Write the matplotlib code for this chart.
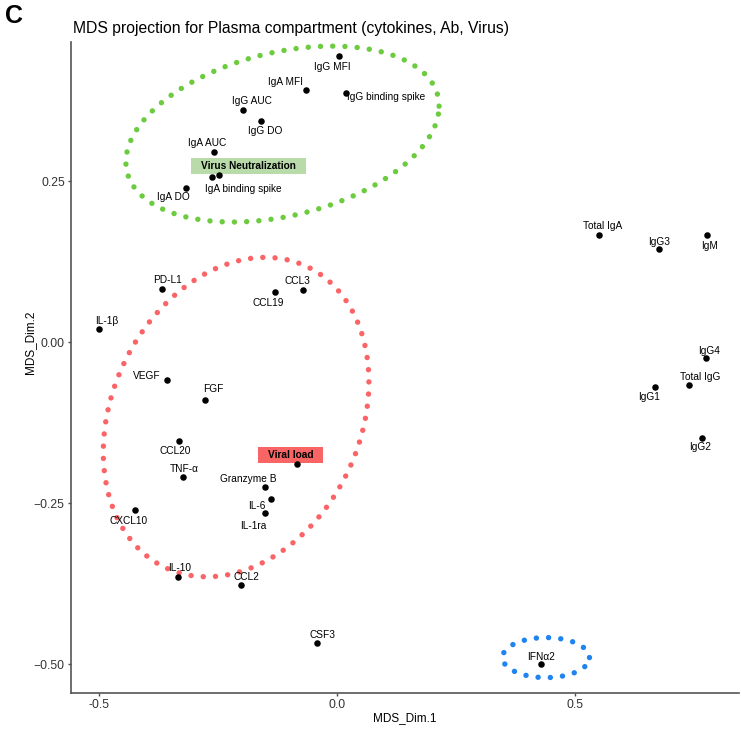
import matplotlib.pyplot as plt
import numpy as np
from matplotlib.patches import Rectangle

plt.rcParams["font.family"] = ["Liberation Sans", "DejaVu Sans"]

# MDS coordinates
names = [
    "IgG MFI", "IgA MFI", "IgG binding spike", "IgG AUC", "IgG DO", "IgA AUC",
    "IgA binding spike", "Virus Neutralization", "IgA DO",
    "PD-L1", "CCL19", "CCL3", "IL-1β", "VEGF", "FGF",
    "CCL20", "TNF-α", "Viral load", "Granzyme B", "IL-6", "IL-1ra", "CXCL10",
    "IL-10", "CCL2",
    "Total IgA", "IgG3", "IgM", "IgG4", "Total IgG", "IgG1", "IgG2",
    "CSF3", "IFNα2",
]
dim1 = [
    0.004, -0.066, 0.019, -0.197, -0.159, -0.258,
    -0.263, -0.247, -0.317,
    -0.368, -0.130, -0.071, -0.500, -0.357, -0.277,
    -0.332, -0.324, -0.083, -0.151, -0.138, -0.151, -0.424,
    -0.333, -0.201,
    0.551, 0.676, 0.778, 0.775, 0.739, 0.668, 0.767,
    -0.043, 0.429,
]
dim2 = [
    0.444, 0.391, 0.387, 0.361, 0.343, 0.295,
    0.256, 0.260, 0.240,
    0.082, 0.077, 0.081, 0.021, -0.059, -0.090,
    -0.153, -0.209, -0.190, -0.225, -0.244, -0.266, -0.261,
    -0.365, -0.377,
    0.166, 0.144, 0.166, -0.024, -0.066, -0.070, -0.149,
    -0.467, -0.500,
]

# cluster ellipses: centre x, centre y, half width, half height, correlation
ell_cx = [-0.1145, -0.212, 0.439]
ell_cy = [0.323, -0.1165, -0.490]
ell_w = [0.329, 0.279, 0.0914]
ell_h = [0.1366, 0.248, 0.0311]
ell_rho = [0.317, 0.22, 0.0]
ell_colors = ["#6CCB3F", "#FB6467", "#1F84F0"]

highlight = {
    "Virus Neutralization": "#B8DBA9",
    "Viral load": "#F96565",
}

# label offsets in pixels (right, up), mimicking the repelled labels
offsets = {
    "IgG MFI": (-7, -11), "IgA MFI": (-20, 8), "IgG binding spike": (40, -4),
    "IgG AUC": (9, 9), "IgG DO": (4, -10), "IgA AUC": (-7, 9),
    "IgA binding spike": (32, -12), "Virus Neutralization": (29, 9),
    "IgA DO": (-13, -9),
    "PD-L1": (6, 9), "CCL19": (-7, -11), "CCL3": (-6, 9), "IL-1β": (8, 8),
    "VEGF": (-20, 4), "FGF": (8, 11),
    "CCL20": (-4, -10), "TNF-α": (1, 8), "Viral load": (-7, 9),
    "Granzyme B": (-17, 8), "IL-6": (-14, -7), "IL-1ra": (-12, -13),
    "CXCL10": (-7, -11), "IL-10": (1, 9), "CCL2": (5, 8),
    "Total IgA": (3, 9), "IgG3": (0, 7), "IgM": (2, -11), "IgG4": (3, 7),
    "Total IgG": (11, 8), "IgG1": (-6, -10), "IgG2": (-2, -9),
    "CSF3": (6, 8), "IFNα2": (0, 7),
}

fig = plt.figure(figsize=(7.41, 7.31), dpi=100)
ax = fig.add_axes([71 / 741, 38 / 731, 668 / 741, 651 / 731])

t = np.linspace(0, 2 * np.pi, 400)
for cx, cy, w, h, rho, col in zip(ell_cx, ell_cy, ell_w, ell_h, ell_rho, ell_colors):
    ex = cx + w * np.cos(t)
    ey = cy + h * (rho * np.cos(t) + np.sqrt(1 - rho ** 2) * np.sin(t))
    ax.plot(ex, ey, color=col, lw=3.9, linestyle=(0, (0.01, 2.25)),
            dash_capstyle="round", zorder=1)

ax.scatter(dim1, dim2, s=22, color="black", zorder=3, linewidths=0)

boxed = []
for name, x, y in zip(names, dim1, dim2):
    dx, dy = offsets[name]
    txt = ax.annotate(name, (x, y), xytext=(dx, dy), textcoords="offset pixels",
                      ha="center", va="center", fontsize=7.3, zorder=4,
                      fontweight="bold" if name in highlight else "normal")
    if name in highlight:
        boxed.append((txt, highlight[name]))

ax.set_xlim(-0.5588, 0.8445)
ax.set_ylim(-0.545, 0.466)
ax.set_xticks([-0.5, 0.0, 0.5])
ax.set_xticklabels(["-0.5", "0.0", "0.5"])
ax.set_yticks([0.25, 0.0, -0.25, -0.5])
ax.set_yticklabels(["0.25", "0.00", "\u22120.25", "\u22120.50"])
ax.tick_params(labelsize=8.8, colors="#4D4D4D", length=2.5, width=1, pad=2,
               labelcolor="#333333")
for side in ["top", "right"]:
    ax.spines[side].set_visible(False)
for side in ["left", "bottom"]:
    ax.spines[side].set_color("#555555")
    ax.spines[side].set_linewidth(1.2)

ax.set_xlabel("MDS_Dim.1", fontsize=8.5)
ax.set_ylabel("MDS_Dim.2", fontsize=8.5)
ax.xaxis.set_label_coords(0.5, -0.029)
ax.yaxis.set_label_coords(-0.052, 0.539)
fig.text(73 / 741, 1 - 28 / 731, "MDS projection for Plasma compartment (cytokines, Ab, Virus)",
         fontsize=11.3, ha="left", va="center")
fig.text(5 / 741, 1 - 16 / 731, "C", fontsize=18, fontweight="bold", ha="left", va="center")

# filled boxes behind the highlighted labels, wider than a plain bbox pad
fig.canvas.draw()
inv = ax.transData.inverted()
for txt, col in boxed:
    bb = txt.get_window_extent()
    x0, y0 = inv.transform((bb.x0 - 10, bb.y0 - 3))
    x1, y1 = inv.transform((bb.x1 + 10, bb.y1 + 3))
    ax.add_patch(Rectangle((x0, y0), x1 - x0, y1 - y0, fc=col, ec="none", zorder=2))

fig.savefig("out.png", dpi=100)
